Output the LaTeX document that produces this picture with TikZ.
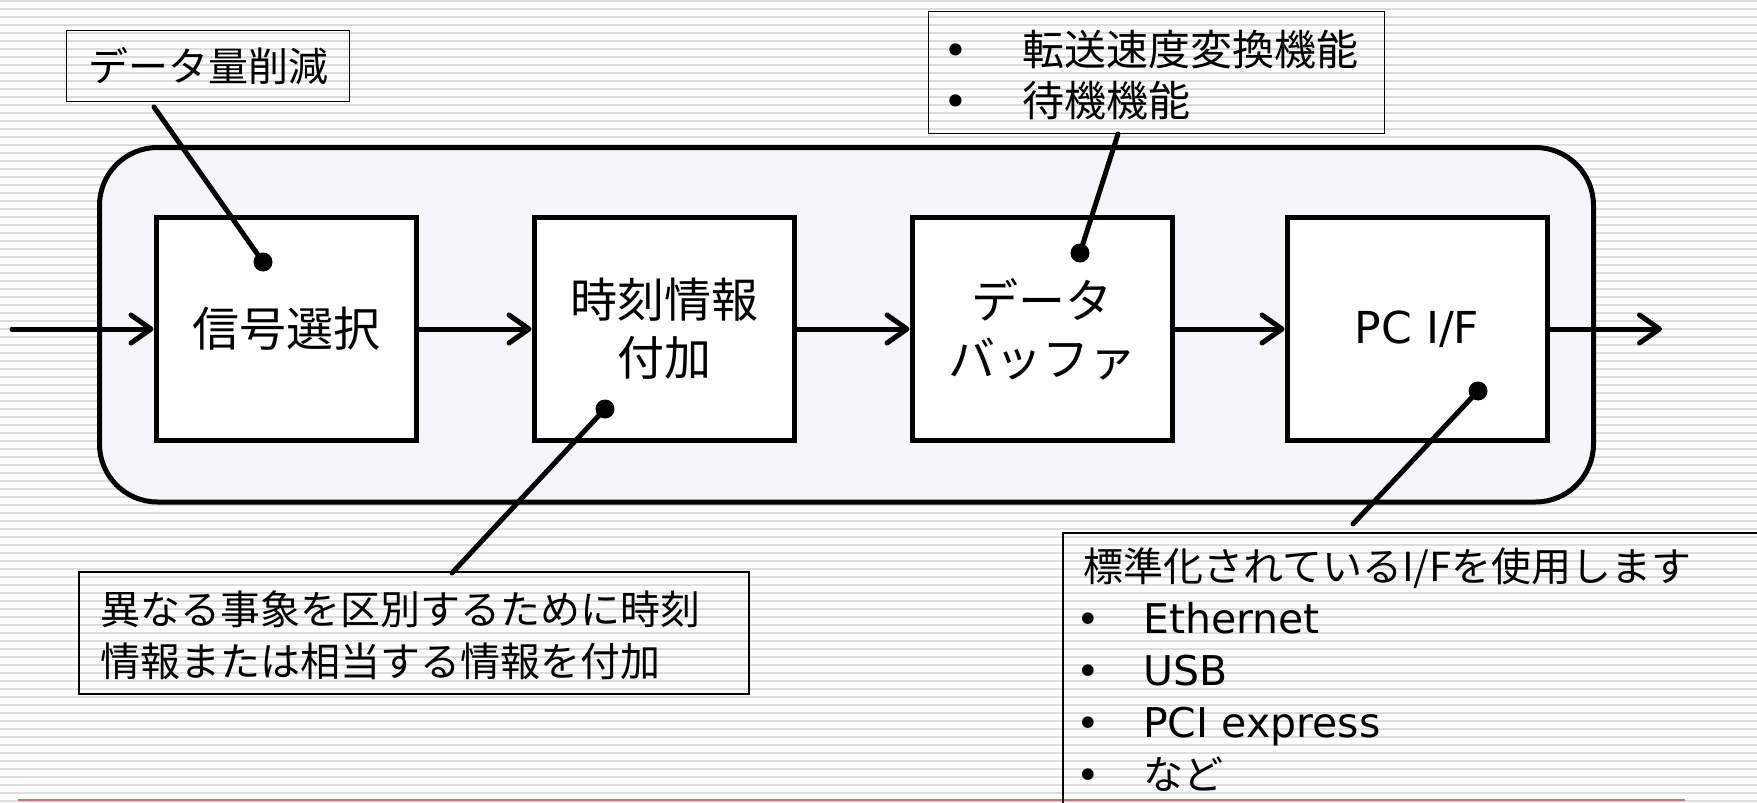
\documentclass[tikz,border=0pt]{standalone}
\usepackage{fontspec}
\setmainfont{Noto Sans CJK JP}
\newfontfamily\latinfont{DejaVu Sans}
\usetikzlibrary{arrows.meta}
\definecolor{stripecol}{RGB}{220,220,220}
\definecolor{panelcol}{RGB}{245,246,248}
\definecolor{redcol}{RGB}{220,110,110}
\newcommand{\setfs}[2]{\fontsize{#1}{#2}\selectfont}
\begin{document}
\begin{tikzpicture}[x=1pt,y=-1pt,
  block/.style={draw, line width=5pt, fill=white, minimum width=260pt, minimum height=223pt,
    inner sep=0pt, align=center, font=\setfs{47}{58}},
  callout/.style={draw, line width=1.5pt, inner sep=0pt},
  ctext/.style={anchor=base west, inner sep=0pt, font=\setfs{40}{52}},
  bul/.style={anchor=base, inner sep=0pt, font=\latinfont\setfs{40}{52}},
  leader/.style={line width=5pt, line cap=round},
  dotmark/.style={circle, fill=black, minimum size=19pt, inner sep=0pt},
  flow/.style={line width=5pt, line cap=round, -{Straight Barb[length=20pt,width=28pt,round]}},
]
\useasboundingbox (0,0) rectangle (1757,803);
\clip (0,0) rectangle (1757,803);
\fill[white] (0,0) rectangle (1757,803);
% striped background
\foreach \k in {0,...,100}{
  \draw[stripecol, line width=2pt] (0,1+8*\k) -- (1757,1+8*\k);
}
% red rule
\draw[redcol, line width=2.5pt] (18,800) -- (1685,800);

% container
\node[draw, line width=5pt, fill=panelcol, rounded corners=58pt,
  minimum width=1494pt, minimum height=354.5pt, inner sep=0pt] (frame) at (846.5,324.75) {};

% blocks
\node[block] (b1) at (286,329) {信号選択};
\node[block] (b2) at (664,329) {時刻情報\\付加};
\node[block] (b3) at (1042,329) {データ\\バッファ};
\node[block, font=\latinfont\setfs{44}{52}] (b4) at (1417,329) {PC I/F};

% flow arrows
\coordinate (inpt) at (12,329);
\coordinate (outpt) at (1662,329);
\draw[flow] (inpt) -- (b1.west);
\draw[flow] (b1.east) -- (b2.west);
\draw[flow] (b2.east) -- (b3.west);
\draw[flow] (b3.east) -- (b4.west);
\draw[flow] (b4.east) -- (outpt);

% callout A
\node[callout, minimum width=283pt, minimum height=71pt, font=\setfs{40}{48}] (cA) at (208,66) {データ量削減};
% callout B
\node[callout, minimum width=456pt, minimum height=122pt] (cB) at (1156.5,72.5) {};
\node[bul, font=\latinfont\setfs{42}{50}] (cBb1) at (956,65) {•};
\node[bul, font=\latinfont\setfs{42}{50}] (cBb2) at (956,116) {•};
\node[ctext, font=\setfs{42}{50}] (cBt1) at (1022,65) {転送速度変換機能};
\node[ctext, font=\setfs{42}{50}] (cBt2) at (1022,116) {待機機能};
% callout C
\node[callout, minimum width=670pt, minimum height=122pt] (cC) at (414,633) {};
\node[ctext] (cCt1) at (100,624) {異なる事象を区別するために時刻};
\node[ctext] (cCt2) at (100,676) {情報または相当する情報を付加};
% callout D (runs off the page)
\node[callout, minimum width=800pt, minimum height=400pt, anchor=north west] (cD) at (1062,532) {};
\node[ctext] (cDt0) at (1083,581) {標準化されているI/Fを使用します};
\node[bul] (cDb1) at (1088,633) {•};
\node[bul] (cDb2) at (1088,685) {•};
\node[bul] (cDb3) at (1088,737) {•};
\node[bul] (cDb4) at (1088,789) {•};
\node[ctext, font=\latinfont\setfs{41}{52}] (cDt1) at (1143,633) {Ethernet};
\node[ctext, font=\latinfont\setfs{41}{52}] (cDt2) at (1143,685) {USB};
\node[ctext, font=\latinfont\setfs{41}{52}] (cDt3) at (1143,737) {PCI express};
\node[ctext] (cDt4) at (1143,789) {など};

% dots and leaders
\node[dotmark] (d1) at (263,262) {};
\node[dotmark] (d2) at (605,409) {};
\node[dotmark] (d3) at (1080,253) {};
\node[dotmark] (d4) at (1478,391) {};
\coordinate (fA) at (154,107);
\coordinate (fC) at (452,573);
\coordinate (fB) at (1118,134);
\coordinate (fD) at (1353,524);
\draw[leader] (fA) -- (d1.center);
\draw[leader] (fC) -- (d2.center);
\draw[leader] (fB) -- (d3.center);
\draw[leader] (fD) -- (d4.center);
\end{tikzpicture}
\end{document}
